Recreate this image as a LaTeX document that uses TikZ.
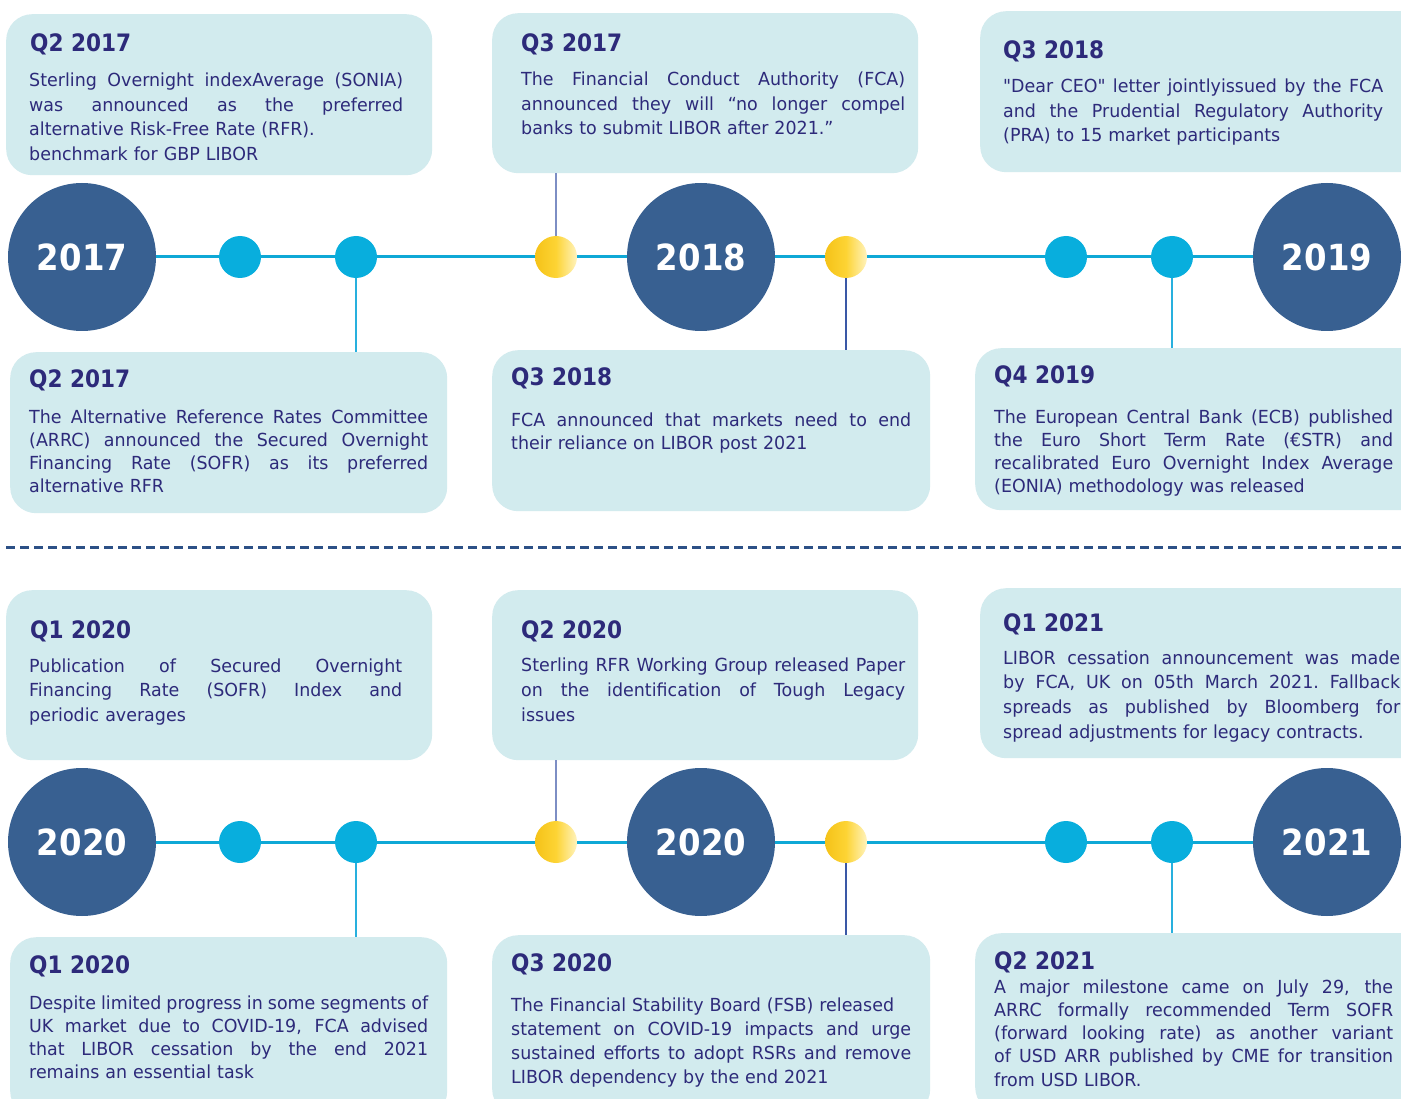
\documentclass[tikz,border=0pt]{standalone}
\usepackage{fontspec}
\setmainfont{DejaVu Sans}[FakeStretch=0.97, Ligatures=TeXOff]
\newfontfamily\condfont{DejaVu Sans Condensed}
\usetikzlibrary{positioning}

\definecolor{cardbg}{RGB}{210,235,238}
\definecolor{ink}{RGB}{45,42,122}
\definecolor{yearblue}{RGB}{56,96,145}
\definecolor{dotcyan}{RGB}{8,174,221}
\definecolor{linecyan}{RGB}{14,168,214}
\definecolor{gold}{RGB}{245,194,24}
\definecolor{goldmid}{RGB}{253,212,52}
\definecolor{cream}{RGB}{255,243,190}
\definecolor{stemlav}{RGB}{125,142,196}
\definecolor{stemblue}{RGB}{58,88,166}
\definecolor{stemcyan}{RGB}{40,176,222}
\definecolor{dashblue}{RGB}{44,80,134}

% one line of card text, spread to the full width
\newcommand{\jl}[1]{\makebox[\linewidth][s]{\spaceskip=.32em plus 1em minus .17em\xspaceskip=\spaceskip #1}\\}

\begin{document}
\begin{tikzpicture}[x=1pt, y=-1pt,
  card/.style 2 args={fill=cardbg, rounded corners=26pt, anchor=north west, inner sep=0pt, minimum width=#1, minimum height=#2},
  ttl/.style={anchor=base west, inner sep=0pt, text=ink, font=\condfont\fontsize{24}{28}\selectfont\bfseries},
  txt/.style 2 args={anchor=base west, inner sep=0pt, text=ink, align=left, text width=#1, font=\fontsize{18}{#2}\selectfont},
  yearball/.style={circle, fill=yearblue, minimum size=148pt, inner sep=0pt, text=white, font=\condfont\fontsize{36}{40}\selectfont\bfseries},
  dot/.style={circle, fill=dotcyan, minimum size=42pt, inner sep=0pt},
  golddot/.style={circle, left color=gold, right color=cream, middle color=goldmid, minimum size=42pt, inner sep=0pt},
  tline/.style={draw=linecyan, line width=3pt},
  stem/.style={line width=1.6pt}]
\useasboundingbox (0,0) rectangle (1401,1099);
\fill[white] (0,0) rectangle (1401,1099);

% ---- 2017 to 2019: cards above and below the line
\node[card={426pt}{161pt}] (ta1) at (6,14) {};
\node[card={426pt}{160pt}] (ta2) at (492,13) {};
\node[card={450pt}{161pt}] (ta3) at (980,11) {};
\node[card={437pt}{161pt}] (ba1) at (10,352) {};
\node[card={438pt}{161pt}] (ba2) at (492,350) {};
\node[card={455pt}{162pt}] (ba3) at (975,348) {};

\node[ttl] (ta1t) at (30,52) {Q2 2017};
\node[txt={374pt}{24.5pt}] (ta1b) at (29,87) {\jl{Sterling Overnight indexAverage (SONIA)}\jl{was announced as the preferred}alternative Risk-Free Rate (RFR).\\benchmark for GBP LIBOR};
\node[ttl] (ta2t) at (521,52) {Q3 2017};
\node[txt={384pt}{24.5pt}] (ta2b) at (521,86) {\jl{The Financial Conduct Authority (FCA)}\jl{announced they will “no longer compel}banks to submit LIBOR after 2021.”};
\node[ttl] (ta3t) at (1003,59) {Q3 2018};
\node[txt={380pt}{24.5pt}] (ta3b) at (1003,93) {\jl{"Dear CEO" letter jointlyissued by the FCA}\jl{and the Prudential Regulatory Authority}(PRA) to 15 market participants};
\node[ttl] (ba1t) at (29,388) {Q2 2017};
\node[txt={399pt}{23pt}] (ba1b) at (29,424) {\jl{The Alternative Reference Rates Committee}\jl{(ARRC) announced the Secured Overnight}\jl{Financing Rate (SOFR) as its preferred}alternative RFR};
\node[ttl] (ba2t) at (511,386) {Q3 2018};
\node[txt={400pt}{24pt}] (ba2b) at (511,426) {\jl{FCA announced that markets need to end}their reliance on LIBOR post 2021};
\node[ttl] (ba3t) at (994,384) {Q4 2019};
\node[txt={399pt}{23.3pt}] (ba3b) at (994,423) {\jl{The European Central Bank (ECB) published}\jl{the Euro Short Term Rate (€STR) and}\jl{recalibrated Euro Overnight Index Average}(EONIA) methodology was released};

% ---- 2020 to 2021
\node[card={426pt}{170pt}] (tb1) at (6,590) {};
\node[card={426pt}{170pt}] (tb2) at (492,590) {};
\node[card={450pt}{170pt}] (tb3) at (980,588) {};
\node[card={437pt}{180pt}] (bb1) at (10,937) {};
\node[card={438pt}{180pt}] (bb2) at (492,935) {};
\node[card={455pt}{180pt}] (bb3) at (975,933) {};

\node[ttl] (tb1t) at (30,638) {Q1 2020};
\node[txt={373pt}{24.5pt}] (tb1b) at (29,672) {\jl{Publication of Secured Overnight}\jl{Financing Rate (SOFR) Index and}periodic averages};
\node[ttl] (tb2t) at (521,638) {Q2 2020};
\node[txt={384pt}{25pt}] (tb2b) at (521,671) {\jl{Sterling RFR Working Group released Paper}\jl{on the identification of Tough Legacy}issues};
\node[ttl] (tb3t) at (1003,631) {Q1 2021};
\node[txt={397pt}{24.7pt}] (tb3b) at (1003,664) {\jl{LIBOR cessation announcement was made}\jl{by FCA, UK on 05th March 2021. Fallback}\jl{spreads as published by Bloomberg for}spread adjustments for legacy contracts.};
\node[ttl] (bb1t) at (29,973) {Q1 2020};
\node[txt={399pt}{23pt}] (bb1b) at (29,1009) {\jl{Despite limited progress in some segments of}\jl{UK market due to COVID-19, FCA advised}\jl{that LIBOR cessation by the end 2021}remains an essential task};
\node[ttl] (bb2t) at (511,971) {Q3 2020};
\node[txt={400pt}{24pt}] (bb2b) at (511,1011) {The Financial Stability Board (FSB) released\\\jl{statement on COVID-19 impacts and urge}\jl{sustained efforts to adopt RSRs and remove}LIBOR dependency by the end 2021};
\node[ttl] (bb3t) at (994,969) {Q2 2021};
\node[txt={399pt}{23.3pt}] (bb3b) at (994,993) {\jl{A major milestone came on July 29, the}\jl{ARRC formally recommended Term SOFR}\jl{(forward looking rate) as another variant}\jl{of USD ARR published by CME for transition}from USD LIBOR.};

% ---- the two timelines: year balls, dots, line and stems to the cards
\foreach \r/\y/\ya/\yb/\yc in {a/257/2017/2018/2019, b/842/2020/2020/2021} {
  \node[yearball] (y\r1) at (82,\y) {\ya};
  \node[yearball] (y\r2) at (701,\y) {\yb};
  \node[yearball] (y\r3) at (1327,\y) {\yc};
  \foreach \x [count=\i] in {240,356,1066,1172}
    \node[dot] (c\r\i) at (\x,\y) {};
  \foreach \x [count=\i] in {556,846}
    \node[golddot] (g\r\i) at (\x,\y) {};
  \draw[tline] (y\r1) -- (c\r1) -- (c\r2) -- (g\r1) -- (y\r2) -- (g\r2) -- (c\r3) -- (c\r4) -- (y\r3);
  \draw[stem, stemlav, line width=2pt] (g\r1) -- (g\r1 |- t\r2.south);
  \draw[stem, stemcyan] (c\r2) -- (c\r2 |- b\r1.north);
  \draw[stem, stemblue] (g\r2) -- (g\r2 |- b\r2.north);
  \draw[stem, stemcyan, line width=2pt] (c\r4) -- (c\r4 |- b\r3.north);
}

% separator between the two periods
\coordinate (sepL) at (6,547);
\coordinate (sepR) at (1401,547);
\draw[dashblue, line width=3pt, dash pattern=on 9pt off 5pt] (sepL) -- (sepR);
\end{tikzpicture}
\end{document}
